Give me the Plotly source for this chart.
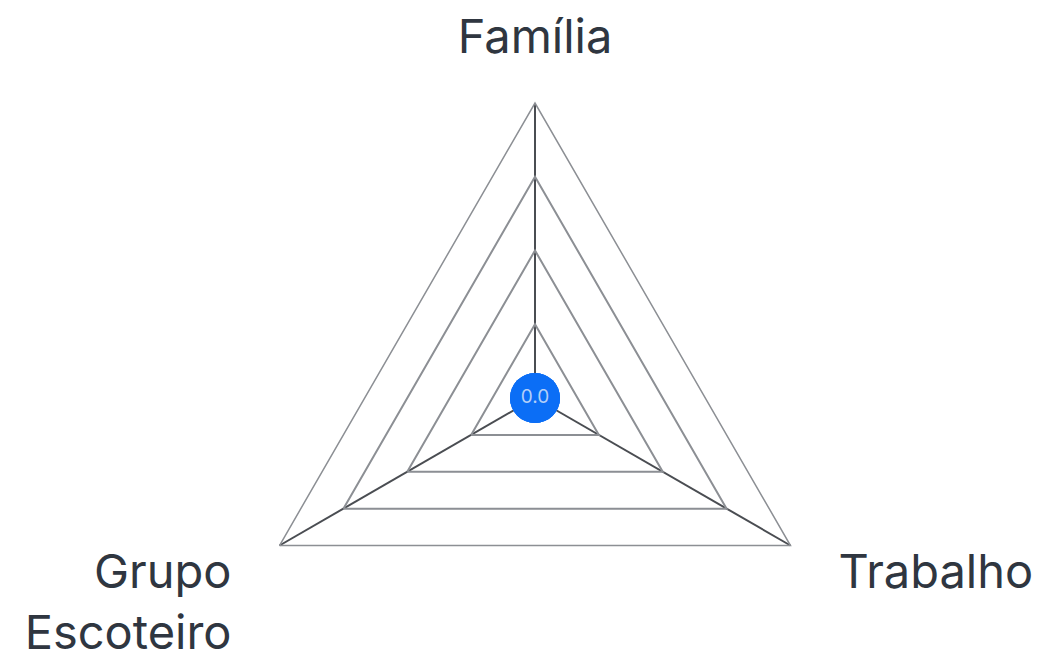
import plotly.graph_objects as go

categories = ["Família", "Trabalho", "Grupo Escoteiro"]
tick_labels = ["Família", "\u00a0Trabalho<br> ", "Grupo\u00a0<br>Escoteiro\u00a0"]
values = [0, 0, 0]
value_labels = ["0.0", "", ""]
grid_ticks = [1, 2, 3, 4]

fig = go.Figure()

# invisible trace that defines the triangular radar grid
fig.add_trace(go.Scatterpolar(
    r=values,
    theta=categories,
    mode="none",
    hoverinfo="skip",
    showlegend=False,
    subplot="polar",
))

# value marker drawn on an overlaid polar (same domain, same radial scale)
fig.add_trace(go.Scatterpolar(
    r=values,
    theta=categories,
    mode="markers+text",
    text=value_labels,
    textposition="middle center",
    textfont=dict(family="Inter", size=19, color="#b3cff8"),
    marker=dict(size=50, color="#0b6ef6"),
    cliponaxis=False,
    hoverinfo="skip",
    showlegend=False,
    subplot="polar2",
))

common_angular = dict(rotation=90, direction="clockwise", categoryorder="array",
                      categoryarray=categories)
full_domain = dict(x=[0, 1], y=[0, 1])

fig.update_layout(
    width=1049,
    height=692,
    margin=dict(l=5, r=0, t=95, b=7),
    paper_bgcolor="white",
    plot_bgcolor="white",
    font=dict(family="Inter", color="#2f3640"),
    polar=dict(
        domain=full_domain,
        bgcolor="white",
        gridshape="linear",
        radialaxis=dict(
            range=[0, 4],
            tickvals=grid_ticks,
            showticklabels=False,
            ticks="",
            showline=False,
            gridcolor="#8c8f94",
            gridwidth=1.5,
        ),
        angularaxis=dict(
            **common_angular,
            tickvals=categories,
            ticktext=tick_labels,
            tickfont=dict(family="Inter", size=47, color="#2f3640"),
            ticks="outside",
            ticklen=30,
            tickcolor="rgba(0,0,0,0)",
            showline=True,
            linecolor="#8c8f94",
            linewidth=1.5,
            gridcolor="#4a4d52",
            gridwidth=1.5,
        ),
    ),
    polar2=dict(
        domain=full_domain,
        bgcolor="rgba(0,0,0,0)",
        gridshape="circular",
        radialaxis=dict(range=[0, 4], visible=False),
        angularaxis=dict(**common_angular, visible=False),
    ),
)

fig.write_html("out.html")
